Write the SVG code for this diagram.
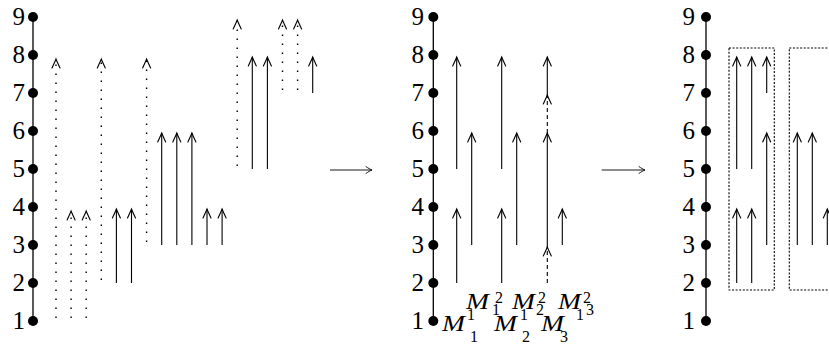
<svg xmlns="http://www.w3.org/2000/svg" width="829" height="348" viewBox="0 0 829 348">
  <style>
    .axis { stroke: #000; stroke-width: 1.3; fill: none; }
    .pt { fill: #000; }
    .solid { stroke: #000; stroke-width: 1.1; fill: none; marker-end: url(#head); }
    .dotted { stroke: #000; stroke-width: 1.4; fill: none; stroke-dasharray: 1.4 7.6; marker-end: url(#head); }
    .dashed { stroke: #000; stroke-width: 1.1; fill: none; stroke-dasharray: 4 3; marker-end: url(#head); }
    .map { stroke: #000; stroke-width: 0.9; fill: none; marker-end: url(#maphead); }
    .box { stroke: #000; stroke-width: 1.1; fill: none; stroke-dasharray: 2 1.6; }
  </style>
  <defs>
    <marker id="head" markerUnits="userSpaceOnUse" markerWidth="12" markerHeight="12" refX="10" refY="6" orient="auto">
      <path d="M1,2 C4,3.4 8,5.2 10,6 C8,6.8 4,8.6 1,10" fill="none" stroke="#000" stroke-width="1.1" stroke-linecap="round"/>
    </marker>
    <marker id="maphead" markerUnits="userSpaceOnUse" markerWidth="10" markerHeight="10" refX="8" refY="5" orient="auto">
      <path d="M2,1.6 C4,3 6.5,4.5 8,5 C6.5,5.5 4,7 2,8.4" fill="none" stroke="#000" stroke-width="0.9" stroke-linecap="round"/>
    </marker>
    <!-- a level point: dot on the axis -->
    <circle id="dot" r="5" class="pt"/>
  </defs>

  <!-- left panel: axis with levels 1..9 -->
  <g id="axis-a" font-family="'Liberation Serif', 'DejaVu Serif', serif" font-size="25" text-anchor="end" fill="#000">
    <line class="axis" x1="33" y1="17" x2="33" y2="321"/>
    <g id="a9"><use href="#dot" x="33" y="17"/><text x="25" y="25">9</text></g>
    <g id="a8"><use href="#dot" x="33" y="55"/><text x="25" y="63">8</text></g>
    <g id="a7"><use href="#dot" x="33" y="93"/><text x="25" y="101">7</text></g>
    <g id="a6"><use href="#dot" x="33" y="131"/><text x="25" y="139">6</text></g>
    <g id="a5"><use href="#dot" x="33" y="169"/><text x="25" y="177">5</text></g>
    <g id="a4"><use href="#dot" x="33" y="207"/><text x="25" y="215">4</text></g>
    <g id="a3"><use href="#dot" x="33" y="245"/><text x="25" y="253">3</text></g>
    <g id="a2"><use href="#dot" x="33" y="283"/><text x="25" y="291">2</text></g>
    <g id="a1"><use href="#dot" x="33" y="321"/><text x="25" y="329">1</text></g>
  </g>

  <!-- middle panel axis -->
  <g id="axis-b" font-family="'Liberation Serif', 'DejaVu Serif', serif" font-size="25" text-anchor="end" fill="#000">
    <line class="axis" x1="433.3" y1="17" x2="433.3" y2="321"/>
    <g id="b9"><use href="#dot" x="433.3" y="17"/><text x="424" y="25">9</text></g>
    <g id="b8"><use href="#dot" x="433.3" y="55"/><text x="424" y="63">8</text></g>
    <g id="b7"><use href="#dot" x="433.3" y="93"/><text x="424" y="101">7</text></g>
    <g id="b6"><use href="#dot" x="433.3" y="131"/><text x="424" y="139">6</text></g>
    <g id="b5"><use href="#dot" x="433.3" y="169"/><text x="424" y="177">5</text></g>
    <g id="b4"><use href="#dot" x="433.3" y="207"/><text x="424" y="215">4</text></g>
    <g id="b3"><use href="#dot" x="433.3" y="245"/><text x="424" y="253">3</text></g>
    <g id="b2"><use href="#dot" x="433.3" y="283"/><text x="424" y="291">2</text></g>
    <g id="b1"><use href="#dot" x="433.3" y="321"/><text x="424" y="329">1</text></g>
  </g>

  <!-- right panel axis -->
  <g id="axis-c" font-family="'Liberation Serif', 'DejaVu Serif', serif" font-size="25" text-anchor="end" fill="#000">
    <line class="axis" x1="706" y1="17" x2="706" y2="321"/>
    <g id="c9"><use href="#dot" x="706" y="17"/><text x="695" y="25">9</text></g>
    <g id="c8"><use href="#dot" x="706" y="55"/><text x="695" y="63">8</text></g>
    <g id="c7"><use href="#dot" x="706" y="93"/><text x="695" y="101">7</text></g>
    <g id="c6"><use href="#dot" x="706" y="131"/><text x="695" y="139">6</text></g>
    <g id="c5"><use href="#dot" x="706" y="169"/><text x="695" y="177">5</text></g>
    <g id="c4"><use href="#dot" x="706" y="207"/><text x="695" y="215">4</text></g>
    <g id="c3"><use href="#dot" x="706" y="245"/><text x="695" y="253">3</text></g>
    <g id="c2"><use href="#dot" x="706" y="283"/><text x="695" y="291">2</text></g>
    <g id="c1"><use href="#dot" x="706" y="321"/><text x="695" y="329">1</text></g>
  </g>

  <!-- grouping boxes in the right panel -->
  <g id="groups">
    <rect class="box" x="729" y="48" width="45.3" height="242"/>
    <rect class="box" x="789.3" y="48" width="80" height="242"/>
  </g>

  <!-- intervals drawn as upward arrows -->
  <g id="connectors">
    <!-- left panel -->
    <path class="dotted" d="M56,318 V59"/>
    <path class="dotted" d="M71.1,318 V211"/>
    <path class="dotted" d="M86.2,318 V211"/>
    <path class="dotted" d="M101.3,280 V59"/>
    <path class="solid" d="M116.4,283 V209"/>
    <path class="solid" d="M131.5,283 V209"/>
    <path class="dotted" d="M146.6,242 V59"/>
    <path class="solid" d="M161.7,245 V133"/>
    <path class="solid" d="M176.8,245 V133"/>
    <path class="solid" d="M191.9,245 V133"/>
    <path class="solid" d="M207,245 V209"/>
    <path class="solid" d="M222.1,245 V209"/>
    <path class="dotted" d="M237.2,166 V20"/>
    <path class="solid" d="M252.3,169 V57"/>
    <path class="solid" d="M267.4,169 V57"/>
    <path class="dotted" d="M282.5,90 V20"/>
    <path class="dotted" d="M297.6,90 V20"/>
    <path class="solid" d="M312.7,93 V57"/>

    <!-- maps between panels -->
    <path class="map" d="M330,170 H372"/>
    <path class="map" d="M601.7,170 H645"/>

    <!-- middle panel -->
    <path class="solid" d="M456.7,169 V57"/>
    <path class="solid" d="M456.7,283 V209"/>
    <path class="solid" d="M471.7,245 V133"/>
    <path class="solid" d="M501.7,169 V57"/>
    <path class="solid" d="M501.7,283 V209"/>
    <path class="solid" d="M516.7,245 V133"/>
    <path class="dashed" d="M547.3,283 V247"/>
    <path class="solid" d="M547.3,247 V133"/>
    <path class="dashed" d="M547.3,133 V95"/>
    <path class="solid" d="M547.3,95 V57"/>
    <path class="solid" d="M562.3,245 V209"/>

    <!-- right panel -->
    <path class="solid" d="M736.7,169 V57"/>
    <path class="solid" d="M736.7,283 V209"/>
    <path class="solid" d="M751.7,169 V57"/>
    <path class="solid" d="M751.7,283 V209"/>
    <path class="solid" d="M766.7,93 V57"/>
    <path class="solid" d="M766.7,245 V133"/>
    <path class="solid" d="M797.3,245 V133"/>
    <path class="solid" d="M812.3,245 V133"/>
    <path class="solid" d="M827.3,245 V209"/>
  </g>

  <!-- interval labels under the middle panel -->
  <g id="labels" font-family="'Liberation Serif', 'DejaVu Serif', serif" fill="#000">
    <g font-style="italic" font-size="23">
      <text x="466" y="309" textLength="23" lengthAdjust="spacingAndGlyphs">M</text>
      <text x="512" y="309" textLength="23" lengthAdjust="spacingAndGlyphs">M</text>
      <text x="558" y="309" textLength="23" lengthAdjust="spacingAndGlyphs">M</text>
      <text x="442" y="331" textLength="23" lengthAdjust="spacingAndGlyphs">M</text>
      <text x="494" y="331" textLength="23" lengthAdjust="spacingAndGlyphs">M</text>
      <text x="541" y="331" textLength="23" lengthAdjust="spacingAndGlyphs">M</text>
    </g>
    <g font-size="16">
      <text x="495" y="303">2</text><text x="492" y="315">1</text>
      <text x="538" y="303">2</text><text x="536" y="315">2</text>
      <text x="583" y="303">2</text><text x="586" y="315">3</text>
      <text x="467" y="320">1</text><text x="470" y="342">1</text>
      <text x="520" y="320">1</text><text x="522" y="342">2</text>
      <text x="576" y="320">1</text><text x="560" y="342">3</text>
    </g>
  </g>
</svg>
